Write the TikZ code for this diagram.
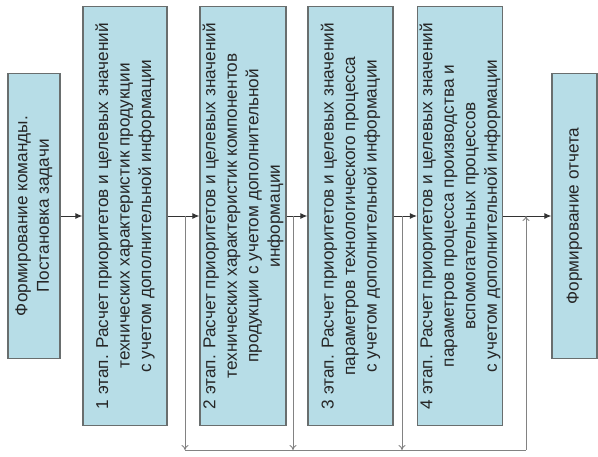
\documentclass[tikz,border=0pt]{standalone}
\usepackage{fontspec}
\setmainfont{Liberation Sans}
\usepackage{xcolor}
\usetikzlibrary{arrows.meta}

\definecolor{stagefill}{RGB}{183,221,231}
\definecolor{stageline}{RGB}{105,110,110}
\definecolor{backline}{RGB}{130,130,130}

\tikzset{
  stage/.style={draw=stageline, line width=1.3pt, fill=stagefill, rotate=90,
    align=center, inner sep=2pt, text=black!85,
    font=\fontsize{17.2}{21.5}\selectfont},
  flow/.style={-{Latex[length=7pt,width=6pt]}, line width=0.9pt, draw=black!80},
  back/.style={-{To[length=5pt,width=7pt]}, line width=0.9pt, draw=backline},
  busline/.style={line width=0.9pt, draw=backline}
}

\begin{document}
\begin{tikzpicture}[x=1pt,y=1pt]
\useasboundingbox (0,0) rectangle (598,456);

% stages (rotated: south is the right side, north the left side)
\node[stage, minimum width=285pt, minimum height=52pt] (start) at (34,240)
  {Формирование команды.\\Постановка задачи};
\node[stage, minimum width=419pt, minimum height=84pt] (st1) at (125,240)
  {1 этап. Расчет приоритетов и целевых значений\\технических характеристик продукции\\с учетом дополнительной информации};
\node[stage, minimum width=419pt, minimum height=86pt] (st2) at (243,240)
  {2 этап. Расчет приоритетов и целевых значений\\технических характеристик компонентов\\продукции с учетом дополнительной\\информации};
\node[stage, minimum width=419pt, minimum height=85pt] (st3) at (350.5,240)
  {3 этап. Расчет приоритетов и целевых значений\\параметров технологического процесса\\с учетом дополнительной информации};
\node[stage, minimum width=419pt, minimum height=84pt] (st4) at (460,240)
  {4 этап. Расчет приоритетов и целевых значений\\параметров процесса производства и\\вспомогательных процессов\\с учетом дополнительной информации};
\node[stage, minimum width=285pt, minimum height=45pt] (report) at (574.5,240)
  {Формирование отчета};

% main flow
\draw[flow] (start.south) -- (st1.north);
\draw[flow] (st1.south) -- (st2.north);
\draw[flow] (st2.south) -- (st3.north);
\draw[flow] (st3.south) -- (st4.north);
\draw[flow] (st4.south) -- (report.north);

% feedback bus
\coordinate (j1) at (185,240);
\coordinate (j2) at (293,240);
\coordinate (j3) at (402,240);
\coordinate (j4) at (526,240);
\coordinate (bus) at (0,6);
\foreach \j in {j1,j2,j3}
  \draw[back] (\j) -- (\j |- bus);
\draw[busline] (j1 |- bus) -- (j4 |- bus);
\draw[back] (j4 |- bus) -- (j4);
\end{tikzpicture}
\end{document}
